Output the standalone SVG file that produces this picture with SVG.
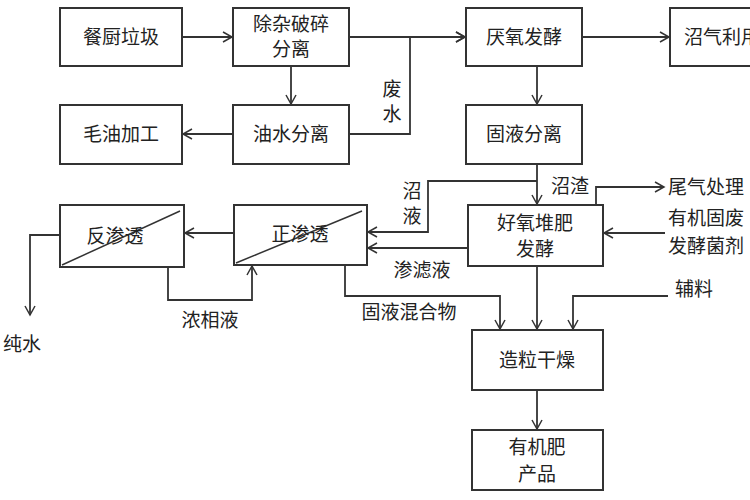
<svg xmlns="http://www.w3.org/2000/svg" width="750" height="500" viewBox="0 0 750 500">
<defs>
<marker id="a" markerWidth="12" markerHeight="12" refX="10" refY="6" orient="auto" markerUnits="userSpaceOnUse"><path d="M1,1 L10,6 L1,11" fill="none" stroke="#333" stroke-width="1.5"/></marker>
<style>
rect{fill:#fff;stroke:#333;stroke-width:2}
text{font-family:"Noto Sans CJK SC",sans-serif;font-size:19px;fill:#222;text-anchor:middle}
.c path{fill:none;stroke:#333;stroke-width:1.8;marker-end:url(#a)}
.c line{stroke:#333;stroke-width:1.8}
.l{text-anchor:start}
</style>
</defs>
<rect x="0" y="0" width="750" height="500" style="fill:#fff;stroke:none"/>
<g class="c">
<path d="M182,37 H232"/>
<path d="M349,37 H465"/>
<path d="M582,37 H669"/>
<path d="M291,66 V104"/>
<path d="M233,134 H183"/>
<path d="M349,134 H410 V37 H465"/>
<path d="M537,66 V104"/>
<path d="M537,164 V204"/>
<path d="M537,181 H428 V232 H368"/>
<path d="M468,248 H368"/>
<path d="M596,205 V187 H664"/>
<path d="M665,233 H604"/>
<path d="M345,265 V296 H500 V329"/>
<path d="M537,266 V329"/>
<path d="M668,296 H573 V329"/>
<path d="M537,390 V429"/>
<path d="M234,233 H185"/>
<path d="M168,267 V300 H252 V266"/>
<path d="M60,235 H30 V315"/>
</g>
<g id="n1"><rect x="60" y="8" width="122" height="58"/><text x="121" y="44">餐厨垃圾</text></g>
<g id="n2"><rect x="233" y="8" width="116" height="58"/><text x="291" y="31">除杂破碎</text><text x="291" y="56">分离</text></g>
<g id="n3"><rect x="466" y="8" width="116" height="58"/><text x="524" y="44">厌氧发酵</text></g>
<g id="n4"><rect x="670" y="8" width="100" height="58"/><text x="684" y="44" class="l">沼气利用</text></g>
<g id="n5"><rect x="60" y="105" width="122" height="59"/><text x="121" y="141">毛油加工</text></g>
<g id="n6"><rect x="233" y="105" width="116" height="59"/><text x="291" y="141">油水分离</text></g>
<g id="n7"><rect x="466" y="105" width="116" height="59"/><text x="524" y="141">固液分离</text></g>
<g id="n8"><rect x="468" y="205" width="135" height="61"/><text x="535" y="230">好氧堆肥</text><text x="535" y="256">发酵</text></g>
<g id="n9"><rect x="60" y="205" width="124" height="62"/><line x1="62" y1="265" x2="180" y2="211" style="stroke:#333;stroke-width:1.5"/><text x="115" y="243">反渗透</text></g>
<g id="n10"><rect x="234" y="205" width="133" height="60"/><line x1="236" y1="263" x2="362" y2="211" style="stroke:#333;stroke-width:1.5"/><text x="300" y="241">正渗透</text></g>
<g id="n11"><rect x="472" y="330" width="131" height="60"/><text x="537" y="367">造粒干燥</text></g>
<g id="n12"><rect x="472" y="430" width="131" height="60"/><text x="537" y="454">有机肥</text><text x="537" y="481">产品</text></g>
<g id="labels">
<text x="392" y="96">废</text><text x="392" y="121">水</text>
<text x="570" y="193">沼渣</text>
<text x="412" y="198">沼</text><text x="412" y="223">液</text>
<text x="422" y="277">渗滤液</text>
<text x="409" y="319">固液混合物</text>
<text x="210" y="327">浓相液</text>
<text x="22" y="351">纯水</text>
<text x="694" y="296">辅料</text>
<text x="668" y="194" class="l">尾气处理</text>
<text x="668" y="225" class="l">有机固废</text>
<text x="668" y="253" class="l">发酵菌剂</text>
</g>
</svg>
